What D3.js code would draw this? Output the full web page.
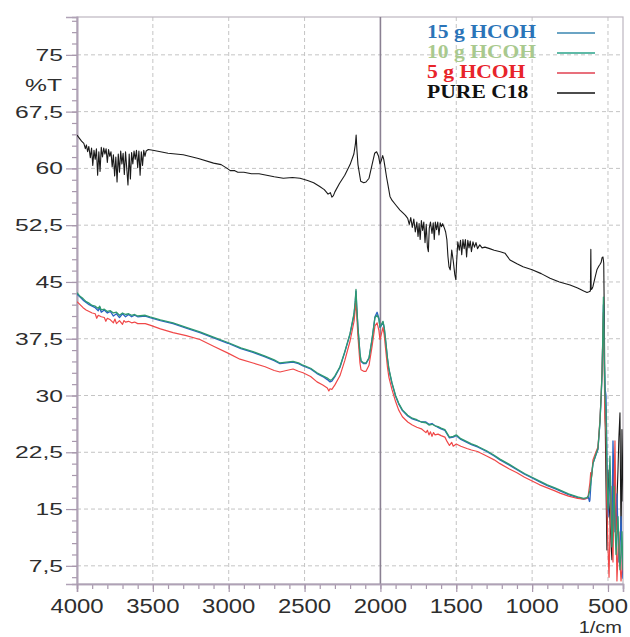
<!DOCTYPE html>
<html><head><meta charset="utf-8">
<script src="https://cdn.jsdelivr.net/npm/d3@7"></script>
<style>body{margin:0;background:#fff}svg{display:block}</style>
</head><body><svg id="c" width="630" height="637"></svg>
<script>
// ---- data ----
const xMajorTicks = [4000,3500,3000,2500,2000,1500,1000,500];
const yMajorTicks = [7.5,15,22.5,30,37.5,45,52.5,60,67.5,75];
const legendLabels = ["15 g HCOH","10 g HCOH","5 g HCOH","PURE C18"];
const pureC18 = [[4000,64.4],[3985,64.0],[3970,63.6],[3955,63.3],[3945,62.6],[3938,63.1],[3930,62.2],[3922,62.9],[3912,61.4],[3904,62.7],[3896,60.4],[3888,62.4],[3880,61.2],[3872,62.6],[3864,59.1],[3856,62.2],[3848,59.6],[3840,62.8],[3832,61.5],[3824,62.7],[3816,61.9],[3808,62.6],[3800,60.8],[3792,62.5],[3784,61.6],[3776,62.2],[3768,60.2],[3760,61.8],[3752,59.0],[3744,61.5],[3736,58.2],[3728,61.9],[3720,59.5],[3712,62.3],[3704,60.6],[3696,62.0],[3688,59.2],[3680,62.2],[3672,60.0],[3664,57.8],[3656,61.9],[3648,58.6],[3640,62.1],[3632,60.6],[3624,62.3],[3616,61.2],[3608,62.4],[3600,60.1],[3592,62.3],[3584,59.1],[3576,62.2],[3568,60.4],[3560,62.4],[3552,61.6],[3544,62.3],[3530,62.5],[3500,62.4],[3450,62.2],[3400,62.0],[3300,61.8],[3200,61.3],[3100,60.7],[3050,60.5],[3010,60.0],[2990,59.7],[2960,59.7],[2940,59.5],[2900,59.5],[2850,59.3],[2800,59.3],[2750,59.1],[2700,58.9],[2640,58.7],[2580,58.8],[2530,58.7],[2480,58.4],[2440,58.1],[2400,57.6],[2370,57.2],[2345,56.6],[2330,56.8],[2320,56.2],[2310,56.4],[2300,56.9],[2270,58.0],[2235,59.1],[2200,60.5],[2175,61.9],[2165,63.2],[2160,64.4],[2155,62.5],[2148,60.5],[2130,58.3],[2110,58.1],[2095,58.2],[2075,58.7],[2055,60.5],[2038,62.0],[2025,62.2],[2012,61.6],[2003,60.6],[1995,61.0],[1985,61.7],[1978,61.2],[1970,60.2],[1960,58.9],[1950,57.8],[1937,56.3],[1924,55.8],[1900,55.2],[1871,54.5],[1850,54.1],[1835,53.8],[1820,53.4],[1810,52.6],[1800,53.5],[1790,52.2],[1780,53.3],[1770,51.6],[1760,52.9],[1752,51.0],[1745,52.7],[1738,50.6],[1730,53.1],[1722,51.8],[1714,52.9],[1706,50.2],[1698,52.6],[1690,49.6],[1684,49.0],[1678,52.1],[1670,52.9],[1660,51.4],[1652,52.8],[1645,50.6],[1638,52.9],[1630,51.9],[1622,52.9],[1614,51.2],[1606,52.8],[1598,52.3],[1590,52.7],[1580,52.2],[1570,51.6],[1562,50.6],[1555,48.4],[1548,47.0],[1540,46.6],[1530,49.2],[1520,47.8],[1510,46.0],[1503,45.3],[1498,47.5],[1490,50.3],[1480,49.2],[1472,50.5],[1464,48.6],[1456,50.6],[1448,49.4],[1440,50.6],[1432,48.3],[1424,50.5],[1416,49.5],[1408,50.4],[1400,49.0],[1390,50.3],[1380,49.6],[1370,50.2],[1360,49.4],[1345,49.9],[1330,49.5],[1311,49.6],[1280,49.4],[1250,49.2],[1210,49.0],[1179,48.8],[1146,47.9],[1100,47.4],[1060,47.0],[1000,46.6],[940,46.1],[882,45.5],[820,45.0],[750,44.6],[700,44.2],[660,43.8],[638,43.6],[625,43.7],[616,43.8],[613,49.3],[611,44.0],[605,44.1],[599,44.4],[585,45.6],[573,46.6],[560,47.1],[553,47.3],[545,47.6],[539,48.2],[533,48.3],[528,47.5],[524,40.0],[520,29.4],[513,18.0],[507,9.6],[503,14.0],[500,20.2],[494,16.0],[487,13.6],[480,10.5],[474,8.3],[468,14.0],[461,18.9],[454,15.5],[447,12.3],[441,16.0],[434,20.2],[428,24.5],[421,27.7],[417,18.0],[414,11.0],[410,19.0],[408,25.5],[404,21.0],[401,16.0]];
const hcoh15 = [[4000,43.4],[3980,43.0],[3960,42.6],[3940,42.3],[3920,42.0],[3900,41.8],[3880,41.6],[3860,41.2],[3850,41.6],[3840,41.0],[3820,41.3],[3800,40.9],[3780,41.1],[3760,40.5],[3740,40.8],[3720,40.3],[3700,40.8],[3680,40.4],[3660,40.7],[3640,40.4],[3620,40.6],[3600,40.4],[3550,40.5],[3519,40.3],[3450,39.9],[3367,39.5],[3280,38.9],[3190,38.3],[3100,37.6],[3005,36.9],[2920,36.2],[2840,35.7],[2760,35.1],[2700,34.6],[2662,34.2],[2620,34.3],[2576,34.4],[2540,34.2],[2510,33.9],[2460,33.5],[2418,32.9],[2380,32.5],[2350,32.1],[2332,31.8],[2320,31.9],[2300,32.5],[2267,33.7],[2235,35.7],[2200,38.1],[2174,40.7],[2166,42.3],[2161,43.8],[2156,41.6],[2148,38.9],[2135,35.5],[2128,34.5],[2110,34.2],[2095,34.2],[2075,34.9],[2055,37.4],[2036,40.4],[2022,41.0],[2010,40.2],[2003,39.0],[1995,39.2],[1983,39.7],[1975,38.9],[1964,36.9],[1954,34.9],[1944,33.4],[1924,31.6],[1900,29.9],[1880,28.9],[1855,28.0],[1820,27.3],[1790,26.9],[1760,26.7],[1730,26.5],[1700,26.5],[1680,26.2],[1660,26.3],[1640,26.0],[1620,25.8],[1600,25.6],[1575,25.4],[1560,24.9],[1545,24.4],[1520,24.5],[1500,24.7],[1470,24.2],[1430,23.8],[1400,23.5],[1360,23.2],[1300,22.6],[1250,22.0],[1212,21.5],[1150,20.8],[1100,20.2],[1050,19.6],[1000,19.1],[950,18.6],[900,18.1],[850,17.7],[816,17.4],[760,16.9],[700,16.5],[660,16.3],[640,16.4],[630,16.6],[622,16.0],[619,16.2],[610,19.2],[599,21.0],[580,22.1],[566,22.9],[553,26.4],[545,29.8],[539,32.8],[535,36.5],[530,42.0],[525,35.0],[520,31.0],[513,30.0],[507,22.0],[500,14.0],[493,17.0],[487,20.0],[480,15.0],[474,11.0],[467,24.0],[461,19.0],[454,12.0],[447,14.0],[441,17.0],[434,12.0],[428,8.0],[421,10.0],[414,14.0],[408,9.0],[404,7.0],[401,5.8]];
const hcoh10 = [[4000,43.6],[3980,43.1],[3960,42.8],[3940,42.4],[3920,42.2],[3900,41.9],[3880,41.8],[3860,41.5],[3850,41.8],[3840,41.3],[3820,41.4],[3800,41.1],[3780,41.2],[3760,40.9],[3740,41.0],[3720,40.6],[3700,40.9],[3680,40.7],[3660,40.8],[3640,40.6],[3620,40.7],[3600,40.5],[3550,40.6],[3519,40.4],[3450,40.0],[3367,39.6],[3280,39.0],[3190,38.4],[3100,37.7],[3005,37.0],[2920,36.3],[2840,35.8],[2760,35.2],[2700,34.7],[2662,34.3],[2620,34.4],[2576,34.5],[2540,34.3],[2510,34.0],[2460,33.6],[2418,33.0],[2380,32.6],[2350,32.3],[2332,32.0],[2320,32.1],[2300,32.6],[2267,33.8],[2235,35.8],[2200,38.2],[2174,40.8],[2166,42.5],[2161,44.0],[2156,41.8],[2148,39.0],[2135,35.6],[2128,34.6],[2110,34.3],[2095,34.3],[2075,35.0],[2055,37.5],[2036,40.3],[2022,40.6],[2010,40.1],[2003,39.1],[1995,39.3],[1983,39.8],[1975,39.0],[1964,37.0],[1954,35.0],[1944,33.5],[1924,31.7],[1900,30.0],[1880,29.0],[1855,28.1],[1820,27.4],[1790,27.0],[1760,26.8],[1730,26.5],[1700,26.4],[1680,26.1],[1660,26.2],[1640,26.0],[1620,25.9],[1600,25.7],[1575,25.5],[1560,25.0],[1545,24.5],[1520,24.6],[1500,24.8],[1470,24.3],[1430,23.9],[1400,23.6],[1360,23.3],[1300,22.7],[1250,22.1],[1212,21.6],[1150,20.9],[1100,20.3],[1050,19.7],[1000,19.2],[950,18.7],[900,18.2],[850,17.8],[816,17.5],[760,17.0],[700,16.6],[660,16.4],[640,16.5],[630,16.7],[619,17.5],[610,19.0],[599,21.0],[580,22.2],[566,23.0],[553,26.5],[545,30.0],[539,33.0],[535,37.0],[530,43.0],[525,36.0],[520,30.0],[513,28.0],[507,20.0],[500,15.0],[493,18.0],[487,22.0],[480,16.0],[474,10.0],[467,13.0],[461,18.0],[454,13.0],[447,9.0],[441,11.5],[434,14.0],[428,10.0],[421,7.0],[414,9.5],[408,12.0],[404,9.0],[401,7.0]];
const hcoh5 = [[4000,42.4],[3980,42.0],[3960,41.6],[3940,41.3],[3920,41.1],[3900,40.9],[3880,40.8],[3870,40.2],[3860,40.6],[3840,40.4],[3820,40.3],[3810,39.8],[3800,40.2],[3780,40.0],[3760,39.6],[3750,40.1],[3740,39.5],[3720,39.9],[3700,39.4],[3690,39.9],[3680,39.7],[3660,39.8],[3640,39.6],[3620,39.7],[3600,39.5],[3550,39.5],[3519,39.3],[3450,38.8],[3367,38.3],[3280,37.9],[3190,37.4],[3100,36.5],[3005,35.6],[2926,34.8],[2840,34.3],[2760,33.8],[2700,33.3],[2662,33.1],[2620,33.3],[2576,33.5],[2540,33.2],[2510,33.0],[2460,32.5],[2418,31.8],[2380,31.4],[2350,31.0],[2340,30.6],[2332,30.9],[2320,30.8],[2300,31.4],[2267,32.6],[2235,34.6],[2200,37.2],[2174,39.8],[2166,41.3],[2161,42.9],[2156,40.6],[2148,37.8],[2135,34.3],[2128,33.4],[2110,33.2],[2095,33.2],[2075,34.0],[2055,36.5],[2036,39.2],[2022,39.6],[2010,38.6],[2003,37.4],[1995,38.0],[1983,39.0],[1975,38.0],[1964,35.8],[1954,33.8],[1944,32.4],[1924,30.8],[1900,29.2],[1880,28.1],[1855,27.2],[1820,26.5],[1790,26.1],[1760,25.8],[1730,25.6],[1700,25.1],[1690,25.4],[1680,24.8],[1670,25.2],[1660,24.6],[1650,25.1],[1640,24.8],[1620,24.9],[1600,24.7],[1575,24.5],[1560,23.9],[1545,23.4],[1530,23.8],[1520,23.3],[1500,23.6],[1470,23.3],[1430,23.0],[1400,22.8],[1360,22.6],[1300,22.0],[1250,21.5],[1212,21.0],[1150,20.3],[1100,19.8],[1050,19.2],[1000,18.7],[950,18.2],[900,17.8],[850,17.4],[816,17.1],[760,16.7],[700,16.4],[660,16.3],[640,16.4],[630,16.8],[619,18.5],[614,19.8],[608,19.2],[599,21.5],[580,22.5],[566,23.2],[553,26.8],[545,30.0],[539,33.5],[535,37.0],[530,41.0],[525,34.0],[520,27.0],[513,25.0],[507,15.0],[500,10.0],[493,6.0],[487,12.0],[480,18.0],[474,12.0],[467,8.0],[461,16.0],[454,24.0],[447,14.0],[441,5.5],[434,9.0],[428,12.0],[421,8.0],[414,5.5],[408,7.0],[404,10.0],[401,9.0]];

// ---- layout ----
const L = 77, R = 623, T = 17, B = 584;
const svg = d3.select("#c");
const x = d3.scaleLinear().domain([4000, 401]).range([L, R]);
const y = d3.scaleLinear().domain([5.1, 80]).range([B, T]);
const fmt = v => d3.format("~g")(v).replace(".", ",");

// grid
const grid = svg.append("g");
grid.selectAll("line.h").data(yMajorTicks).join("line")
  .attr("x1", L).attr("x2", R).attr("y1", d => y(d)).attr("y2", d => y(d))
  .attr("stroke", "#c4c4c4").attr("stroke-dasharray", "4,3").attr("stroke-width", 1);
grid.selectAll("line.v").data(xMajorTicks.filter(d => d !== 4000 && d !== 2000)).join("line")
  .attr("x1", d => x(d)).attr("x2", d => x(d)).attr("y1", T).attr("y2", B)
  .attr("stroke", "#c4c4c4").attr("stroke-dasharray", "4,3").attr("stroke-width", 1);

// frame
svg.append("rect").attr("x", L).attr("y", T).attr("width", R - L).attr("height", B - T)
  .attr("fill", "none").attr("stroke", "#bdb6c0").attr("stroke-width", 1.2);
// 2000 marker line
svg.append("line").attr("x1", x(2000)).attr("x2", x(2000)).attr("y1", T).attr("y2", B)
  .attr("stroke", "#8a8092").attr("stroke-width", 1.6);

// axes
const yAxis = svg.append("g").attr("transform", `translate(${L},0)`)
  .call(d3.axisLeft(y).tickValues(d3.range(6, 80, 1.5)).tickSize(5).tickFormat(""));
const yAxisMaj = svg.append("g").attr("transform", `translate(${L},0)`)
  .call(d3.axisLeft(y).tickValues(yMajorTicks).tickSize(11).tickFormat(""));
const xAxis = svg.append("g").attr("transform", `translate(0,${B})`)
  .call(d3.axisBottom(x).tickValues(d3.range(500, 4001, 100)).tickSize(5).tickFormat(""));
const xAxisMaj = svg.append("g").attr("transform", `translate(0,${B})`)
  .call(d3.axisBottom(x).tickValues(xMajorTicks).tickSize(8).tickFormat(""));
[yAxis, yAxisMaj, xAxis, xAxisMaj].forEach(g => {
  g.selectAll("path.domain").attr("stroke", "#b0a2b6").attr("stroke-width", 1.6);
  g.selectAll(".tick line").attr("stroke", "#a898ad").attr("stroke-width", 1.2);
});

// tick labels
const lab = svg.append("g").attr("font-family", "'Liberation Sans', Arial, sans-serif").attr("fill", "#2e2e2e");
lab.selectAll("text.y").data(yMajorTicks).join("text")
  .attr("transform", d => `translate(63,${y(d) + 6}) scale(1.45,1)`)
  .attr("text-anchor", "end").attr("font-size", 17).text(fmt);
lab.append("text").attr("transform", `translate(62,91) scale(1.45,1)`)
  .attr("text-anchor", "end").attr("font-size", 17).text("%T");
lab.selectAll("text.x").data(xMajorTicks).join("text")
  .attr("transform", d => `translate(${x(d)},613) scale(1.14,1)`)
  .attr("text-anchor", "middle").attr("font-size", 21).text(d => d);
lab.append("text").attr("transform", `translate(622,633) scale(1.25,1)`)
  .attr("text-anchor", "end").attr("font-size", 16).text("1/cm");

// series
svg.append("clipPath").attr("id", "clip").append("rect")
  .attr("x", L).attr("y", T).attr("width", R - L).attr("height", B - T);
const line = d3.line().x(d => x(d[0])).y(d => y(d[1]));
const plot = svg.append("g").attr("clip-path", "url(#clip)").attr("fill", "none");
const series = [
  {d: pureC18, c: "#1a1a1a", w: 1.1},
  {d: hcoh15, c: "#2b62c4", w: 1.3},
  {d: hcoh5, c: "#f04848", w: 1.2},
  {d: hcoh10, c: "#2f9a70", w: 1.3}
];
series.forEach(s => plot.append("path").attr("d", line(s.d))
  .attr("stroke", s.c).attr("stroke-width", s.w).attr("stroke-linejoin", "round"));

// legend
const legTextColors = ["#2b74b8", "#a9c98e", "#e8242a", "#111111"];
const legLineColors = ["#3a86b0", "#2aa38a", "#e04050", "#111111"];
const leg = svg.append("g");
legendLabels.forEach((t, i) => {
  const by = 38 + i * 20;
  leg.append("text").attr("transform", `translate(427,${by}) scale(1.2,1)`)
    .attr("font-family", "'Liberation Serif', 'Times New Roman', serif").attr("font-weight", "bold")
    .attr("font-size", 18).attr("fill", legTextColors[i]).text(t);
  leg.append("line").attr("x1", 557).attr("x2", 595).attr("y1", by - 5).attr("y2", by - 5)
    .attr("stroke", legLineColors[i]).attr("stroke-width", 1.5);
});
</script></body></html>
